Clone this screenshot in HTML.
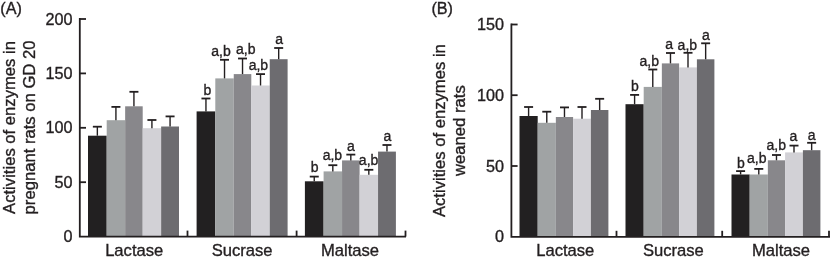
<!DOCTYPE html>
<html><head><meta charset="utf-8"><style>
html,body{margin:0;padding:0;background:#fff;width:830px;height:260px;overflow:hidden}
svg{display:block;will-change:transform}
text{font-family:"Liberation Sans",sans-serif;fill:#231f20;stroke:#231f20;stroke-width:0.35px}
.tick{font-size:16.2px}
.cat{font-size:16.6px}
.ylab{font-size:16.65px}
.lab{font-size:14px}
.panel{font-size:16.2px}
</style></head><body>
<svg width="830" height="260" viewBox="0 0 830 260">
<rect width="830" height="260" fill="#fff"/>
<rect x="88.00" y="135.70" width="18.70" height="100.90" fill="#222021"/>
<line x1="97.35" y1="126.70" x2="97.35" y2="135.70" stroke="#231f20" stroke-width="1.4"/>
<line x1="92.85" y1="126.70" x2="101.85" y2="126.70" stroke="#231f20" stroke-width="1.8"/>
<rect x="106.70" y="120.20" width="18.45" height="116.40" fill="#a0a3a4"/>
<line x1="115.92" y1="106.90" x2="115.92" y2="120.20" stroke="#231f20" stroke-width="1.4"/>
<line x1="111.42" y1="106.90" x2="120.42" y2="106.90" stroke="#231f20" stroke-width="1.8"/>
<rect x="125.15" y="106.30" width="17.55" height="130.30" fill="#88878b"/>
<line x1="133.93" y1="91.80" x2="133.93" y2="106.30" stroke="#231f20" stroke-width="1.4"/>
<line x1="129.43" y1="91.80" x2="138.43" y2="91.80" stroke="#231f20" stroke-width="1.8"/>
<rect x="142.70" y="128.20" width="18.45" height="108.40" fill="#d2d1d6"/>
<line x1="151.92" y1="120.00" x2="151.92" y2="128.20" stroke="#231f20" stroke-width="1.4"/>
<line x1="147.42" y1="120.00" x2="156.42" y2="120.00" stroke="#231f20" stroke-width="1.8"/>
<rect x="161.15" y="126.50" width="17.85" height="110.10" fill="#6d6c70"/>
<line x1="170.07" y1="116.40" x2="170.07" y2="126.50" stroke="#231f20" stroke-width="1.4"/>
<line x1="165.57" y1="116.40" x2="174.57" y2="116.40" stroke="#231f20" stroke-width="1.8"/>
<text x="134.20" y="255.7" text-anchor="middle" class="cat">Lactase</text>
<rect x="196.60" y="111.40" width="18.70" height="125.20" fill="#222021"/>
<line x1="205.95" y1="98.50" x2="205.95" y2="111.40" stroke="#231f20" stroke-width="1.4"/>
<line x1="201.45" y1="98.50" x2="210.45" y2="98.50" stroke="#231f20" stroke-width="1.8"/>
<text x="207.35" y="94.70" text-anchor="middle" class="lab">b</text>
<rect x="215.30" y="78.40" width="18.45" height="158.20" fill="#a0a3a4"/>
<line x1="224.52" y1="59.80" x2="224.52" y2="78.40" stroke="#231f20" stroke-width="1.4"/>
<line x1="220.02" y1="59.80" x2="229.02" y2="59.80" stroke="#231f20" stroke-width="1.8"/>
<text x="221.00" y="55.70" text-anchor="middle" class="lab">a,b</text>
<rect x="233.75" y="74.10" width="17.55" height="162.50" fill="#88878b"/>
<line x1="242.53" y1="58.50" x2="242.53" y2="74.10" stroke="#231f20" stroke-width="1.4"/>
<line x1="238.03" y1="58.50" x2="247.03" y2="58.50" stroke="#231f20" stroke-width="1.8"/>
<text x="245.70" y="54.20" text-anchor="middle" class="lab">a,b</text>
<rect x="251.30" y="85.50" width="18.45" height="151.10" fill="#d2d1d6"/>
<line x1="260.53" y1="74.10" x2="260.53" y2="85.50" stroke="#231f20" stroke-width="1.4"/>
<line x1="256.03" y1="74.10" x2="265.03" y2="74.10" stroke="#231f20" stroke-width="1.8"/>
<text x="258.40" y="70.30" text-anchor="middle" class="lab">a,b</text>
<rect x="269.75" y="59.20" width="17.85" height="177.40" fill="#6d6c70"/>
<line x1="278.68" y1="48.00" x2="278.68" y2="59.20" stroke="#231f20" stroke-width="1.4"/>
<line x1="274.18" y1="48.00" x2="283.18" y2="48.00" stroke="#231f20" stroke-width="1.8"/>
<text x="279.25" y="43.90" text-anchor="middle" class="lab">a</text>
<text x="242.10" y="255.7" text-anchor="middle" class="cat">Sucrase</text>
<rect x="304.90" y="181.30" width="18.70" height="55.30" fill="#222021"/>
<line x1="314.25" y1="176.60" x2="314.25" y2="181.30" stroke="#231f20" stroke-width="1.4"/>
<line x1="309.75" y1="176.60" x2="318.75" y2="176.60" stroke="#231f20" stroke-width="1.8"/>
<text x="314.75" y="171.60" text-anchor="middle" class="lab">b</text>
<rect x="323.60" y="171.40" width="18.45" height="65.20" fill="#a0a3a4"/>
<line x1="332.82" y1="165.20" x2="332.82" y2="171.40" stroke="#231f20" stroke-width="1.4"/>
<line x1="328.32" y1="165.20" x2="337.32" y2="165.20" stroke="#231f20" stroke-width="1.8"/>
<text x="332.40" y="159.50" text-anchor="middle" class="lab">a,b</text>
<rect x="342.05" y="160.40" width="17.55" height="76.20" fill="#88878b"/>
<line x1="350.82" y1="154.60" x2="350.82" y2="160.40" stroke="#231f20" stroke-width="1.4"/>
<line x1="346.32" y1="154.60" x2="355.32" y2="154.60" stroke="#231f20" stroke-width="1.8"/>
<text x="351.00" y="150.50" text-anchor="middle" class="lab">a</text>
<rect x="359.60" y="174.80" width="18.45" height="61.80" fill="#d2d1d6"/>
<line x1="368.82" y1="169.80" x2="368.82" y2="174.80" stroke="#231f20" stroke-width="1.4"/>
<line x1="364.32" y1="169.80" x2="373.32" y2="169.80" stroke="#231f20" stroke-width="1.8"/>
<text x="368.60" y="164.50" text-anchor="middle" class="lab">a,b</text>
<rect x="378.05" y="151.60" width="17.85" height="85.00" fill="#6d6c70"/>
<line x1="386.97" y1="145.00" x2="386.97" y2="151.60" stroke="#231f20" stroke-width="1.4"/>
<line x1="382.47" y1="145.00" x2="391.47" y2="145.00" stroke="#231f20" stroke-width="1.8"/>
<text x="387.50" y="140.90" text-anchor="middle" class="lab">a</text>
<text x="350.00" y="255.7" text-anchor="middle" class="cat">Maltase</text>
<path d="M79.80,18.10 V236.60 H406.00" fill="none" stroke="#231f20" stroke-width="1.8" stroke-linecap="butt"/>
<text x="72.50" y="242.10" text-anchor="end" class="tick">0</text>
<line x1="79.80" y1="182.20" x2="86.00" y2="182.20" stroke="#231f20" stroke-width="1.8"/>
<text x="72.50" y="187.70" text-anchor="end" class="tick">50</text>
<line x1="79.80" y1="127.80" x2="86.00" y2="127.80" stroke="#231f20" stroke-width="1.8"/>
<text x="72.50" y="133.30" text-anchor="end" class="tick">100</text>
<line x1="79.80" y1="73.40" x2="86.00" y2="73.40" stroke="#231f20" stroke-width="1.8"/>
<text x="72.50" y="78.90" text-anchor="end" class="tick">150</text>
<line x1="79.80" y1="19.00" x2="86.00" y2="19.00" stroke="#231f20" stroke-width="1.8"/>
<text x="72.50" y="24.50" text-anchor="end" class="tick">200</text>
<line x1="187.50" y1="236.60" x2="187.50" y2="230.60" stroke="#231f20" stroke-width="1.8"/>
<line x1="296.60" y1="236.60" x2="296.60" y2="230.60" stroke="#231f20" stroke-width="1.8"/>
<line x1="405.50" y1="236.60" x2="405.50" y2="230.60" stroke="#231f20" stroke-width="1.8"/>
<text transform="translate(14.60,127.45) rotate(-90)" x="0" y="0" text-anchor="middle" class="ylab">Activities of enzymes in</text>
<text transform="translate(34.60,127.45) rotate(-90)" x="0" y="0" text-anchor="middle" class="ylab">pregnant rats on GD 20</text>
<text x="0.30" y="14.2" class="panel">(A)</text>
<rect x="519.50" y="116.00" width="18.20" height="120.80" fill="#222021"/>
<line x1="528.60" y1="107.00" x2="528.60" y2="116.00" stroke="#231f20" stroke-width="1.4"/>
<line x1="524.10" y1="107.00" x2="533.10" y2="107.00" stroke="#231f20" stroke-width="1.8"/>
<rect x="537.70" y="122.80" width="18.15" height="114.00" fill="#a0a3a4"/>
<line x1="546.78" y1="111.70" x2="546.78" y2="122.80" stroke="#231f20" stroke-width="1.4"/>
<line x1="542.28" y1="111.70" x2="551.28" y2="111.70" stroke="#231f20" stroke-width="1.8"/>
<rect x="555.85" y="117.00" width="17.25" height="119.80" fill="#88878b"/>
<line x1="564.48" y1="107.40" x2="564.48" y2="117.00" stroke="#231f20" stroke-width="1.4"/>
<line x1="559.98" y1="107.40" x2="568.98" y2="107.40" stroke="#231f20" stroke-width="1.8"/>
<rect x="573.10" y="118.70" width="17.80" height="118.10" fill="#d2d1d6"/>
<line x1="582.00" y1="107.00" x2="582.00" y2="118.70" stroke="#231f20" stroke-width="1.4"/>
<line x1="577.50" y1="107.00" x2="586.50" y2="107.00" stroke="#231f20" stroke-width="1.8"/>
<rect x="590.90" y="110.00" width="17.50" height="126.80" fill="#6d6c70"/>
<line x1="599.65" y1="98.80" x2="599.65" y2="110.00" stroke="#231f20" stroke-width="1.4"/>
<line x1="595.15" y1="98.80" x2="604.15" y2="98.80" stroke="#231f20" stroke-width="1.8"/>
<text x="565.30" y="255.7" text-anchor="middle" class="cat">Lactase</text>
<rect x="625.50" y="104.20" width="18.20" height="132.60" fill="#222021"/>
<line x1="634.60" y1="94.90" x2="634.60" y2="104.20" stroke="#231f20" stroke-width="1.4"/>
<line x1="630.10" y1="94.90" x2="639.10" y2="94.90" stroke="#231f20" stroke-width="1.8"/>
<text x="634.90" y="90.90" text-anchor="middle" class="lab">b</text>
<rect x="643.70" y="86.90" width="18.15" height="149.90" fill="#a0a3a4"/>
<line x1="652.78" y1="69.50" x2="652.78" y2="86.90" stroke="#231f20" stroke-width="1.4"/>
<line x1="648.28" y1="69.50" x2="657.28" y2="69.50" stroke="#231f20" stroke-width="1.8"/>
<text x="649.25" y="66.30" text-anchor="middle" class="lab">a,b</text>
<rect x="661.85" y="63.40" width="17.25" height="173.40" fill="#88878b"/>
<line x1="670.48" y1="53.00" x2="670.48" y2="63.40" stroke="#231f20" stroke-width="1.4"/>
<line x1="665.98" y1="53.00" x2="674.98" y2="53.00" stroke="#231f20" stroke-width="1.8"/>
<text x="669.25" y="49.00" text-anchor="middle" class="lab">a</text>
<rect x="679.10" y="67.40" width="17.80" height="169.40" fill="#d2d1d6"/>
<line x1="688.00" y1="52.80" x2="688.00" y2="67.40" stroke="#231f20" stroke-width="1.4"/>
<line x1="683.50" y1="52.80" x2="692.50" y2="52.80" stroke="#231f20" stroke-width="1.8"/>
<text x="687.35" y="49.60" text-anchor="middle" class="lab">a,b</text>
<rect x="696.90" y="59.30" width="17.50" height="177.50" fill="#6d6c70"/>
<line x1="705.65" y1="43.30" x2="705.65" y2="59.30" stroke="#231f20" stroke-width="1.4"/>
<line x1="701.15" y1="43.30" x2="710.15" y2="43.30" stroke="#231f20" stroke-width="1.8"/>
<text x="705.85" y="39.70" text-anchor="middle" class="lab">a</text>
<text x="673.35" y="255.7" text-anchor="middle" class="cat">Sucrase</text>
<rect x="731.50" y="174.50" width="18.20" height="62.30" fill="#222021"/>
<line x1="740.60" y1="171.10" x2="740.60" y2="174.50" stroke="#231f20" stroke-width="1.4"/>
<line x1="736.10" y1="171.10" x2="745.10" y2="171.10" stroke="#231f20" stroke-width="1.8"/>
<text x="741.00" y="167.50" text-anchor="middle" class="lab">b</text>
<rect x="749.70" y="174.50" width="18.15" height="62.30" fill="#a0a3a4"/>
<line x1="758.78" y1="168.90" x2="758.78" y2="174.50" stroke="#231f20" stroke-width="1.4"/>
<line x1="754.28" y1="168.90" x2="763.28" y2="168.90" stroke="#231f20" stroke-width="1.8"/>
<text x="756.70" y="163.10" text-anchor="middle" class="lab">a,b</text>
<rect x="767.85" y="160.30" width="17.25" height="76.50" fill="#88878b"/>
<line x1="776.48" y1="155.00" x2="776.48" y2="160.30" stroke="#231f20" stroke-width="1.4"/>
<line x1="771.98" y1="155.00" x2="780.98" y2="155.00" stroke="#231f20" stroke-width="1.8"/>
<text x="776.30" y="149.50" text-anchor="middle" class="lab">a,b</text>
<rect x="785.10" y="152.40" width="17.80" height="84.40" fill="#d2d1d6"/>
<line x1="794.00" y1="145.60" x2="794.00" y2="152.40" stroke="#231f20" stroke-width="1.4"/>
<line x1="789.50" y1="145.60" x2="798.50" y2="145.60" stroke="#231f20" stroke-width="1.8"/>
<text x="793.40" y="141.10" text-anchor="middle" class="lab">a</text>
<rect x="802.90" y="150.20" width="17.50" height="86.60" fill="#6d6c70"/>
<line x1="811.65" y1="142.80" x2="811.65" y2="150.20" stroke="#231f20" stroke-width="1.4"/>
<line x1="807.15" y1="142.80" x2="816.15" y2="142.80" stroke="#231f20" stroke-width="1.8"/>
<text x="811.55" y="140.20" text-anchor="middle" class="lab">a</text>
<text x="780.95" y="255.7" text-anchor="middle" class="cat">Maltase</text>
<path d="M511.40,23.60 V236.80 H830.00" fill="none" stroke="#231f20" stroke-width="1.8" stroke-linecap="butt"/>
<text x="504.00" y="242.30" text-anchor="end" class="tick">0</text>
<line x1="511.40" y1="166.00" x2="517.60" y2="166.00" stroke="#231f20" stroke-width="1.8"/>
<text x="504.00" y="171.50" text-anchor="end" class="tick">50</text>
<line x1="511.40" y1="95.20" x2="517.60" y2="95.20" stroke="#231f20" stroke-width="1.8"/>
<text x="504.00" y="100.70" text-anchor="end" class="tick">100</text>
<line x1="511.40" y1="24.50" x2="517.60" y2="24.50" stroke="#231f20" stroke-width="1.8"/>
<text x="504.00" y="30.00" text-anchor="end" class="tick">150</text>
<line x1="616.50" y1="236.80" x2="616.50" y2="230.80" stroke="#231f20" stroke-width="1.8"/>
<line x1="722.20" y1="236.80" x2="722.20" y2="230.80" stroke="#231f20" stroke-width="1.8"/>
<line x1="829.00" y1="236.80" x2="829.00" y2="230.80" stroke="#231f20" stroke-width="1.8"/>
<text transform="translate(445.40,130.60) rotate(-90)" x="0" y="0" text-anchor="middle" class="ylab">Activities of enzymes in</text>
<text transform="translate(465.00,130.60) rotate(-90)" x="0" y="0" text-anchor="middle" class="ylab">weaned rats</text>
<text x="431.40" y="14.2" class="panel">(B)</text>
</svg>
</body></html>
